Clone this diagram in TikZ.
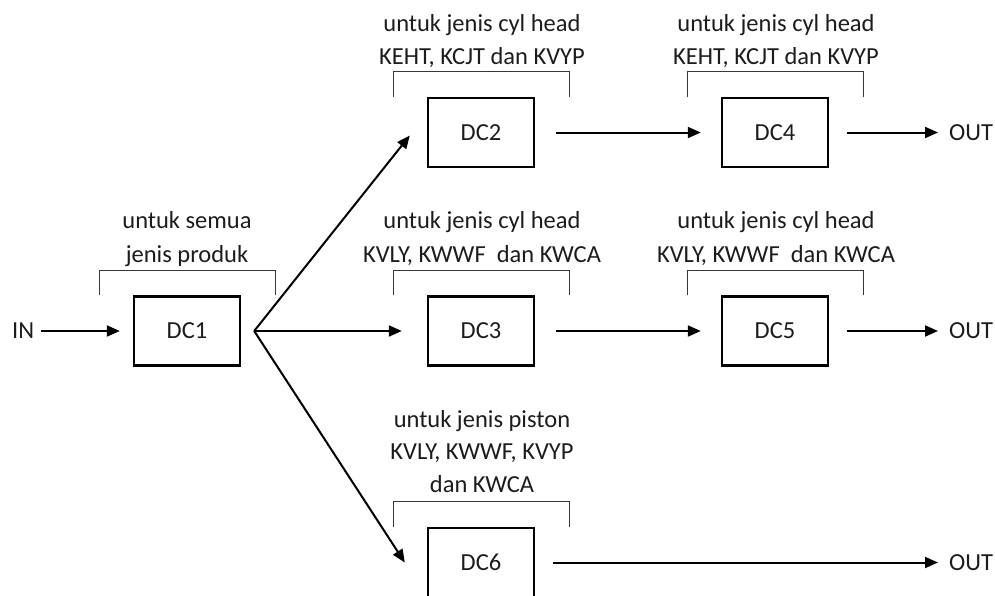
\documentclass[tikz,border=0pt]{standalone}
\usepackage{fontspec}
\setmainfont{Carlito}
\usetikzlibrary{arrows.meta}
\definecolor{txt}{RGB}{28,28,28}
\definecolor{brkgray}{RGB}{55,55,55}
\begin{document}
\begin{tikzpicture}[x=1pt,y=-1pt,
  every node/.style={font=\fontsize{24.5}{29}\selectfont, text=txt},
  dcbox/.style={draw, line width=2.4pt, minimum width=106pt, minimum height=69pt, inner sep=0pt},
  lbl/.style={anchor=base, inner sep=0pt},
  term/.style={anchor=west, inner sep=0pt},
  conn/.style={draw, line width=2pt, -{Triangle[length=13pt,width=11pt]}},
  brk/.style={draw=brkgray, line width=1.2pt}
]
\useasboundingbox (0,0) rectangle (995,595);
\clip (0,0) rectangle (995,595);

% process stations
\node[dcbox] (dc1) at (187,331) {DC1};
\node[dcbox] (dc2) at (481,132.5) {DC2};
\node[dcbox] (dc3) at (481,331) {DC3};
\node[dcbox] (dc4) at (775,132.5) {DC4};
\node[dcbox] (dc5) at (775,331) {DC5};
\node[dcbox] (dc6) at (481,562.5) {DC6};

% inputs and outputs
\node[term] (in) at (12,331) {IN};
\node[term] (out4) at (949,132.5) {OUT};
\node[term] (out5) at (949,331) {OUT};
\node[term] (out6) at (949,562.5) {OUT};

% brackets over each station
\foreach \n in {dc1,dc2,dc3,dc4,dc5,dc6}
  \draw[brk] ([xshift=-33pt]\n.north west) -- ([xshift=-33pt,yshift=25pt]\n.north west)
    -- ([xshift=34pt,yshift=25pt]\n.north east) -- ([xshift=34pt]\n.north east);

% product labels
\node[lbl] (l1a) at (187,228.5) {untuk semua};
\node[lbl] (l1b) at (187,262) {jenis produk};
\node[lbl] (l2a) at (482,31) {untuk jenis cyl head};
\node[lbl] (l2b) at (482,64.5) {KEHT, KCJT dan KVYP};
\node[lbl] (l4a) at (776,31) {untuk jenis cyl head};
\node[lbl] (l4b) at (776,64.5) {KEHT, KCJT dan KVYP};
\node[lbl] (l3a) at (482,228.5) {untuk jenis cyl head};
\node[lbl] (l3b) at (482,262) {KVLY, KWWF\ \ dan KWCA};
\node[lbl] (l5a) at (776,228.5) {untuk jenis cyl head};
\node[lbl] (l5b) at (776,262) {KVLY, KWWF\ \ dan KWCA};
\node[lbl] (l6a) at (482,427) {untuk jenis piston};
\node[lbl] (l6b) at (482,459.5) {KVLY, KWWF, KVYP};
\node[lbl] (l6c) at (482,492) {dan KWCA};

% flow
\coordinate (br) at ([xshift=13pt]dc1.east);
\draw[conn, shorten <=7pt, shorten >=13pt] (in.east) -- (dc1.west);
\draw[conn] (br) -- ([xshift=-17pt,yshift=-3pt]dc2.west);
\draw[conn, shorten >=25pt] (br) -- (br -| dc3.west);
\draw[conn] (br) -- ([xshift=-22pt]dc6.west);
\draw[conn, shorten <=21pt, shorten >=20pt] (dc2.east) -- (dc4.west);
\draw[conn, shorten <=21pt, shorten >=20pt] (dc3.east) -- (dc5.west);
\draw[conn, shorten <=18pt, shorten >=11pt] (dc4.east) -- (out4.west);
\draw[conn, shorten <=18pt, shorten >=11pt] (dc5.east) -- (out5.west);
\draw[conn, shorten <=18pt, shorten >=11pt] (dc6.east) -- (out6.west);
\end{tikzpicture}
\end{document}
